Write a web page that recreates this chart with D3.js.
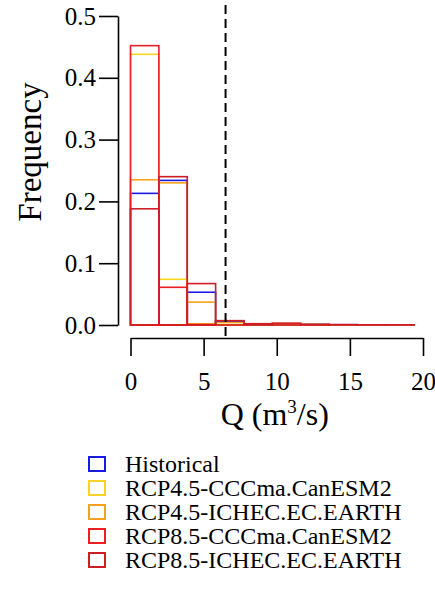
<!DOCTYPE html>
<html>
<head>
<meta charset="utf-8">
<script src="https://cdn.jsdelivr.net/npm/d3@7"></script>
<style>
  body { margin: 0; background: #fff; }
  svg text { font-family: "Liberation Serif", "Times New Roman", serif !important; }
</style>
</head>
<body>
<div id="chart"></div>
<script>
// bin edges (Q, m3/s) - 10 bins
const binEdges = [0, 1.94, 3.88, 5.82, 7.76, 9.7, 11.64, 13.58, 15.52, 17.46, 19.4];

// frequency (density) per bin
const historical   = [0.213, 0.234, 0.053, 0.006, 0.002, 0.002, 0.001, 0.0005, 0.0003, 0.0003];
const rcp45CCCma   = [0.438, 0.074, 0.002, 0.0005, 0, 0, 0, 0, 0, 0];
const rcp45ICHEC   = [0.235, 0.230, 0.037, 0.004, 0.002, 0.002, 0.001, 0.0005, 0.0003, 0.0003];
const rcp85CCCma   = [0.452, 0.061, 0.001, 0, 0, 0, 0, 0, 0, 0];
const rcp85ICHEC   = [0.188, 0.240, 0.067, 0.007, 0.002, 0.003, 0.001, 0.0005, 0.0003, 0.0003];

const seriesNames = [
  "Historical",
  "RCP4.5-CCCma.CanESM2",
  "RCP4.5-ICHEC.EC.EARTH",
  "RCP8.5-CCCma.CanESM2",
  "RCP8.5-ICHEC.EC.EARTH"
];
const seriesValues = [historical, rcp45CCCma, rcp45ICHEC, rcp85CCCma, rcp85ICHEC];
const colors = ["#1a1ae6", "#f7d51e", "#f5a31a", "#ee1c25", "#d01c24"];

const threshold = 6.5; // dashed vertical line
const xTicks = [0, 5, 10, 15, 20];
const yTicks = [0, 0.1, 0.2, 0.3, 0.4, 0.5];

const width = 435;
const height = 597;
const serif = "Liberation Serif, Times New Roman, serif";

const svg = d3.select("#chart")
  .append("svg")
  .attr("width", width)
  .attr("height", height)
  .style("font-family", serif);

const x = d3.scaleLinear().domain([0, 20]).range([130.5, 423]);
const y = d3.scaleLinear().domain([0, 0.5]).range([325, 16]);

// y axis
const yAxis = svg.append("g")
  .attr("transform", "translate(118,0)")
  .call(d3.axisLeft(y).tickValues(yTicks).tickFormat(d3.format(".1f"))
    .tickSize(19).tickSizeOuter(0).tickPadding(3));
yAxis.attr("font-family", serif).attr("font-size", 25);
yAxis.selectAll("text").attr("fill", "#000");
yAxis.selectAll("line, path").attr("stroke", "#000").attr("stroke-width", 1.6);

// x axis
const xAxis = svg.append("g")
  .attr("transform", "translate(0,338)")
  .call(d3.axisBottom(x).tickValues(xTicks).tickFormat(d3.format("d"))
    .tickSize(18).tickSizeOuter(0).tickPadding(16));
xAxis.attr("font-family", serif).attr("font-size", 25);
xAxis.selectAll("text").attr("fill", "#000");
xAxis.selectAll("line, path").attr("stroke", "#000").attr("stroke-width", 1.6);

// axis titles
svg.append("text")
  .attr("transform", "translate(41,152) rotate(-90)")
  .attr("text-anchor", "middle")
  .attr("font-size", 33)
  .text("Frequency");

const xl = svg.append("text")
  .attr("x", x(10) - 2)
  .attr("y", 425)
  .attr("text-anchor", "middle")
  .attr("font-size", 32);
xl.append("tspan").text("Q (m");
xl.append("tspan").attr("dy", -12).attr("font-size", 19).text("3");
xl.append("tspan").attr("dy", 12).text("/s)");

// histogram outlines
seriesValues.forEach((vals, s) => {
  svg.append("g")
    .selectAll("rect")
    .data(vals)
    .enter()
    .append("rect")
    .attr("x", (d, i) => x(binEdges[i]))
    .attr("width", (d, i) => x(binEdges[i + 1]) - x(binEdges[i]))
    .attr("y", d => y(d))
    .attr("height", d => y(0) - y(d))
    .attr("fill", "none")
    .attr("stroke", colors[s])
    .attr("stroke-width", 1.6);
});

// threshold line
svg.append("line")
  .attr("x1", x(threshold)).attr("x2", x(threshold))
  .attr("y1", 5).attr("y2", 338)
  .attr("stroke", "#000")
  .attr("stroke-width", 2)
  .attr("stroke-dasharray", "9,5");

// legend
const legend = svg.append("g").attr("transform", "translate(89,457)");
const rows = legend.selectAll("g")
  .data(seriesNames)
  .enter()
  .append("g")
  .attr("transform", (d, i) => `translate(0,${i * 24})`);
rows.append("rect")
  .attr("width", 16).attr("height", 14)
  .attr("fill", "none")
  .attr("stroke", (d, i) => colors[i])
  .attr("stroke-width", 2);
rows.append("text")
  .attr("x", 36)
  .attr("y", 7)
  .attr("dy", "0.35em")
  .attr("font-size", 24)
  .text(d => d);
</script>
</body>
</html>
